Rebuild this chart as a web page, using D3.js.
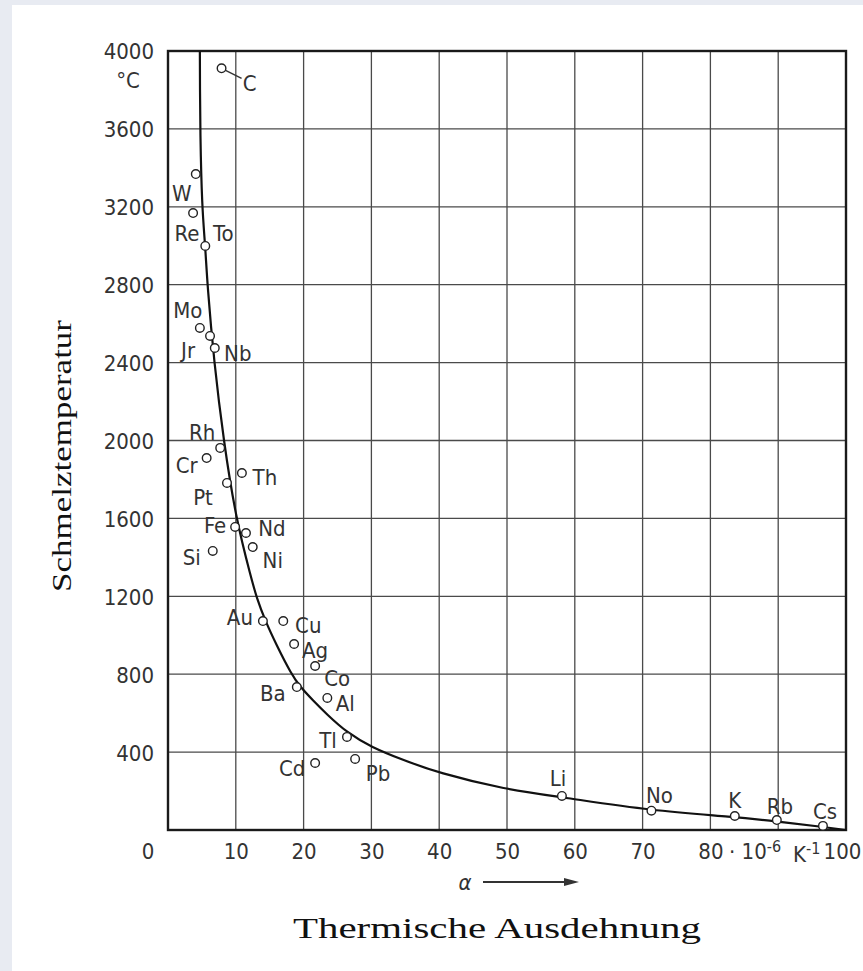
<!DOCTYPE html>
<html lang="de">

<head>
    <meta charset="UTF-8">
    <title>Schmelztemperatur</title>
    <style>
        body {
            margin: 0;
            background-color: #e8ebf2;
        }

        .tick-label, .el-label {
            font-family: "DejaVu Sans Condensed", "DejaVu Sans", sans-serif;
            fill: #333;
        }

        .serif-title {
            font-family: "Liberation Serif", "DejaVu Serif", serif;
            fill: #111;
        }
    </style>
</head>

<body>
    <svg id="SVG"></svg>

    <script src="https://d3js.org/d3.v7.min.js"></script>

    <script>
        // Werte
        var elements = ["C", "W", "Re", "To", "Mo", "Jr", "Nb", "Rh", "Cr", "Th", "Pt", "Fe", "Nd", "Ni", "Si",
            "Au", "Cu", "Ag", "Co", "Ba", "Al", "Tl", "Cd", "Pb", "Li", "No", "K", "Rb", "Cs"];
        var alpha = [7.9, 4.1, 3.7, 5.5, 4.7, 6.2, 6.9, 7.7, 5.7, 10.9, 8.7, 9.9, 11.5, 12.5, 6.6,
            14.0, 17.0, 18.6, 21.7, 19.0, 23.5, 26.4, 21.7, 27.6, 58.1, 71.3, 83.6, 89.8, 96.6];
        var meltTemp = [3911, 3368, 3168, 2999, 2578, 2537, 2475, 1962, 1910, 1833, 1782, 1556, 1525, 1453, 1433,
            1073, 1073, 955, 842, 734, 678, 478, 344, 365, 175, 99, 72, 51, 21];

        // Ausgleichskurve (von Hand gezeichnet im Original)
        var curveAlpha = [4.7, 4.72, 4.75, 5.0, 5.5, 5.8, 6.8, 8.2, 10.0, 12.3, 13.1, 14.3, 16.0, 18.2, 19.5,
            21.4, 23.4, 26.4, 30.0, 34.7, 39.8, 49.7, 58.3, 71.3, 83.6, 89.8, 96.6, 100, 100];
        var curveTemp = [4000, 3800, 3600, 3200, 3000, 2800, 2400, 2000, 1600, 1290, 1190, 1078, 950, 800, 735,
            665, 595, 500, 425, 359, 294, 208, 168, 99, 68, 44, 16, 0, 0];

        var yTicks = [400, 800, 1200, 1600, 2000, 2400, 2800, 3200, 3600, 4000];
        var xTicks = [10, 20, 30, 40, 50, 60, 70, 80, 100];
        var xGrid = [10, 20, 30, 40, 50, 60, 70, 80, 90];

        // Lage der Beschriftung relativ zum Kreis (px)
        var labelOffset = {
            C: [28, 15], W: [-14, 19], Re: [-6, 20], To: [18, -13], Mo: [-12, -18], Jr: [-22, 14],
            Nb: [23, 5], Rh: [-18, -16], Cr: [-20, 7], Th: [23, 4], Pt: [-24, 14], Fe: [-20, -2],
            Nd: [26, -5], Ni: [20, 13], Si: [-21, 6], Au: [-23, -4], Cu: [25, 4], Ag: [21, 6],
            Co: [22, 12], Ba: [-24, 6], Al: [18, 5], Tl: [-19, 3], Cd: [-23, 5], Pb: [23, 14],
            Li: [-4, -18], No: [8, -16], K: [0, -16], Rb: [3, -14], Cs: [2, -15]
        };

        var width = 863;
        var height = 971;

        var svg = d3.select("#SVG")
            .attr("width", width)
            .attr("height", height);

        // Hintergrund: grauer Rand, weisses Blatt
        svg.append("rect").attr("width", width).attr("height", height).attr("fill", "#e8ebf2");
        svg.append("rect").attr("x", 12).attr("y", 5)
            .attr("width", width - 12).attr("height", height - 5).attr("fill", "white");

        var x = d3.scaleLinear().domain([0, 100]).range([168, 846]);
        var y = d3.scaleLinear().domain([0, 4000]).range([830, 51]);

        var group = svg.append("g");

        //***************** Gitter *****************
        group.append("g").selectAll("line")
            .data(xGrid)
            .enter()
            .append("line")
            .attr("x1", d => x(d)).attr("x2", d => x(d))
            .attr("y1", y(0)).attr("y2", y(4000))
            .attr("stroke", "#4a4a4a")
            .attr("stroke-width", 1.3);

        group.append("g").selectAll("line")
            .data(yTicks.slice(0, -1))
            .enter()
            .append("line")
            .attr("x1", x(0)).attr("x2", x(100))
            .attr("y1", d => y(d)).attr("y2", d => y(d))
            .attr("stroke", "#4a4a4a")
            .attr("stroke-width", 1.3);

        // Rahmen
        group.append("rect")
            .attr("x", x(0)).attr("y", y(4000))
            .attr("width", x(100) - x(0)).attr("height", y(0) - y(4000))
            .attr("fill", "none")
            .attr("stroke", "#1a1a1a")
            .attr("stroke-width", 2.4);

        //***************** Achsen *****************
        var axisY = d3.axisLeft(y).tickValues(yTicks).tickSize(0).tickPadding(0).tickFormat(d3.format("d"));
        var gy = group.append("g").attr("transform", "translate(154,0)").call(axisY);
        gy.select(".domain").remove();
        gy.selectAll("text")
            .attr("class", "tick-label")
            .attr("font-size", 22)
            .attr("dy", "0.36em")
            .attr("text-anchor", "end");

        var axisX = d3.axisBottom(x).tickValues(xTicks).tickSize(0).tickPadding(0).tickFormat(d3.format("d"));
        var gx = group.append("g").attr("transform", "translate(0,843)").call(axisX);
        gx.select(".domain").remove();
        gx.selectAll("text")
            .attr("class", "tick-label")
            .attr("font-size", 22)
            .attr("dy", "0.72em")
            .attr("dx", d => d === 100 ? -4 : 0);

        // Null an der Ecke
        group.append("text").attr("class", "tick-label")
            .attr("x", x(0) - 20).attr("y", 851).attr("dy", "0.36em")
            .attr("text-anchor", "middle").attr("font-size", 22).text("0");

        // Einheit °C
        group.append("text").attr("class", "tick-label")
            .attr("x", 128).attr("y", 80).attr("dy", "0.36em")
            .attr("text-anchor", "middle").attr("font-size", 22).text("°C");

        // Einheit 10^-6 K^-1
        var unit = group.append("text").attr("class", "tick-label")
            .attr("x", 729).attr("y", 851).attr("dy", "0.36em").attr("font-size", 22);
        unit.append("tspan").text("· 10");
        unit.append("tspan").attr("dy", "-0.45em").attr("font-size", 16).text("-6");
        unit.append("tspan").attr("dy", "0.45em").attr("dx", 12).text("K");
        unit.append("tspan").attr("dy", "-0.45em").attr("font-size", 16).text("-1");

        // alpha mit Pfeil
        group.append("text").attr("class", "tick-label")
            .attr("x", 465).attr("y", 882).attr("dy", "0.36em")
            .attr("text-anchor", "middle").attr("font-size", 22).attr("font-style", "italic").text("α");
        group.append("line")
            .attr("x1", 483).attr("x2", 566).attr("y1", 882).attr("y2", 882)
            .attr("stroke", "#333").attr("stroke-width", 2);
        group.append("path")
            .attr("d", "M564,878 L579,882 L564,886 Z")
            .attr("fill", "#333");

        //***************** Kurve *****************
        var curveData = curveAlpha.map((a, i) => [a, curveTemp[i]]);
        var line = d3.line()
            .x(d => x(d[0]))
            .y(d => y(d[1]))
            .curve(d3.curveBasis);

        group.append("path")
            .datum(curveData)
            .attr("d", line)
            .attr("fill", "none")
            .attr("stroke", "#111")
            .attr("stroke-width", 2.2);

        //***************** Punkte *****************
        var points = elements.map((e, i) => ({ name: e, a: alpha[i], t: meltTemp[i] }));

        // Hinweislinie bei C
        var cPt = points[0];
        group.append("line")
            .attr("x1", x(cPt.a) + 4).attr("y1", y(cPt.t) + 2)
            .attr("x2", x(cPt.a) + 20).attr("y2", y(cPt.t) + 10)
            .attr("stroke", "#333").attr("stroke-width", 1.3);

        group.append("g").selectAll("circle")
            .data(points)
            .enter()
            .append("circle")
            .attr("cx", d => x(d.a))
            .attr("cy", d => y(d.t))
            .attr("r", 4.3)
            .attr("fill", "white")
            .attr("stroke", "#222")
            .attr("stroke-width", 1.4);

        group.append("g").selectAll("text")
            .data(points)
            .enter()
            .append("text")
            .attr("class", "el-label")
            .attr("x", d => x(d.a) + labelOffset[d.name][0])
            .attr("y", d => y(d.t) + labelOffset[d.name][1])
            .attr("dy", "0.36em")
            .attr("text-anchor", "middle")
            .attr("font-size", 22)
            .text(d => d.name);

        //***************** Titel *****************
        svg.append("text")
            .attr("class", "serif-title")
            .attr("transform", "translate(71,456) rotate(-90)")
            .attr("text-anchor", "middle")
            .attr("font-size", 28)
            .attr("textLength", 272)
            .attr("lengthAdjust", "spacingAndGlyphs")
            .text("Schmelztemperatur");

        svg.append("text")
            .attr("class", "serif-title")
            .attr("x", 497)
            .attr("y", 938)
            .attr("text-anchor", "middle")
            .attr("font-size", 30)
            .attr("textLength", 408)
            .attr("lengthAdjust", "spacingAndGlyphs")
            .text("Thermische Ausdehnung");
    </script>
</body>

</html>
